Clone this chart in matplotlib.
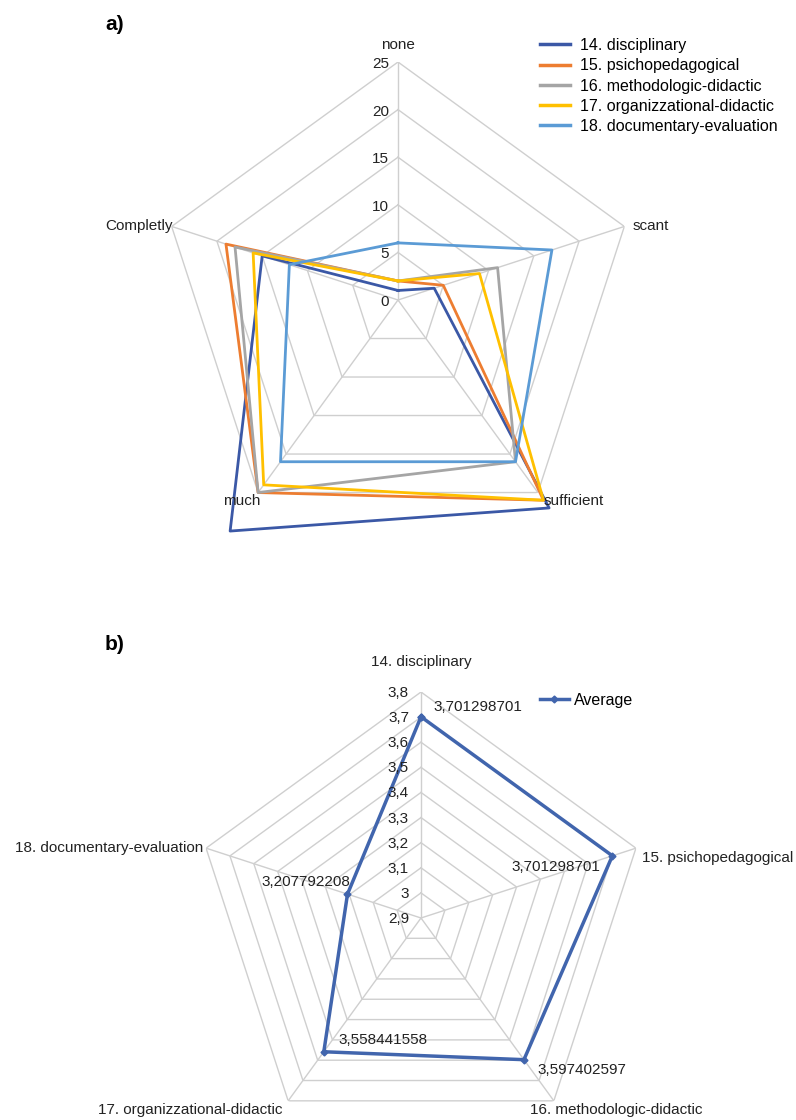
import numpy as np
import matplotlib
matplotlib.use("Agg")
import matplotlib.pyplot as plt
import matplotlib.lines as mlines

plt.rcParams['font.family'] = ['Liberation Sans', 'DejaVu Sans']

# chart a) - number of answers per level
levels = ["none", "scant", "sufficient", "much", "Completly"]
series_names = ["14. disciplinary", "15. psichopedagogical", "16. methodologic-didactic",
                "17. organizzational-didactic", "18. documentary-evaluation"]
disciplinary = [1, 4, 27, 30, 15]
psichopedagogical = [2, 5, 26, 25, 19]
methodologic = [2, 11, 21, 25, 18]
organizzational = [2, 9, 26, 24, 16]
documentary = [6, 17, 21, 21, 12]
ticks_a = [0, 5, 10, 15, 20, 25]

# chart b) - averages
areas = ["14. disciplinary", "15. psichopedagogical", "16. methodologic-didactic",
         "17. organizzational-didactic", "18. documentary-evaluation"]
average = [3.701298701, 3.701298701, 3.597402597, 3.558441558, 3.207792208]
ticks_b = [2.9, 3.0, 3.1, 3.2, 3.3, 3.4, 3.5, 3.6, 3.7, 3.8]
tick_labels_b = ["2,9", "3", "3,1", "3,2", "3,3", "3,4", "3,5", "3,6", "3,7", "3,8"]

colors = ["#3b58a6", "#ed7d31", "#a5a5a5", "#ffc000", "#5b9bd5"]
GRID = "#cfcfcf"
TXT = "#222222"
W, H = 796, 1120


def radar_axes(fig, cx, cy, R, rmin, rmax):
    ax = fig.add_axes([(cx - R) / W, (H - cy - R) / H, 2 * R / W, 2 * R / H], projection="polar")
    ax.set_theta_zero_location("N")
    ax.set_theta_direction(-1)
    ax.set_ylim(rmin, rmax)
    ax.grid(False)
    ax.set_xticks([])
    ax.set_yticks([])
    ax.spines["polar"].set_visible(False)
    ax.patch.set_alpha(0)
    return ax


def draw_grid(ax, angles, rings, rmin, rmax):
    closed = np.append(angles, angles[0])
    for r in rings:
        ax.plot(closed, [r] * len(closed), color=GRID, lw=1.0, zorder=1)
    for a in angles:
        ax.plot([a, a], [rmin, rmax], color=GRID, lw=1.0, zorder=1)


fig = plt.figure(figsize=(W / 100, H / 100), dpi=100)
angles = np.arange(5) * 2 * np.pi / 5
closed = np.append(angles, angles[0])

# ---------- a) ----------
ax1 = radar_axes(fig, 398, 300, 238, 0, 25)
draw_grid(ax1, angles, ticks_a[1:], 0, 25)
for vals, name, c in zip([disciplinary, psichopedagogical, methodologic, organizzational, documentary],
                         series_names, colors):
    ax1.plot(closed, vals + vals[:1], color=c, lw=2.0, clip_on=False, zorder=3, label=name)
for t in ticks_a:
    ax1.annotate(str(t), xy=(0, t), xytext=(-9, -2), textcoords="offset pixels",
                 ha="right", va="center", fontsize=11, color=TXT)
label_off_a = [(0, 17, "center"), (8, 0, "left"), (6, -8, "left"), (2, -8, "right"), (1, 0, "right")]
for a, lab, (dx, dy, ha) in zip(angles, levels, label_off_a):
    ax1.annotate(lab, xy=(a, 25), xytext=(dx, dy), textcoords="offset pixels",
                 ha=ha, va="center", fontsize=11, color=TXT)
fig.legend(handles=[mlines.Line2D([], [], color=c, lw=2.5) for c in colors], labels=series_names,
           loc="upper left", bbox_to_anchor=(540 / W, 1 - 38 / H), frameon=False, fontsize=11.5,
           handlelength=1.9, handletextpad=0.6, labelspacing=0.33, borderpad=0, borderaxespad=0)
fig.text(105 / W, 1 - 25 / H, "a)", fontsize=15, fontweight="bold", va="center")

# ---------- b) ----------
ax2 = radar_axes(fig, 421, 918, 226, 2.9, 3.8)
draw_grid(ax2, angles, ticks_b[1:], 2.9, 3.8)
ax2.plot(closed, average + average[:1], color="#4165ad", lw=2.5, marker="D", markersize=3.5,
         clip_on=False, zorder=3)
for t, tl in zip(ticks_b, tick_labels_b):
    ax2.annotate(tl, xy=(0, t), xytext=(-12, -1), textcoords="offset pixels",
                 ha="right", va="center", fontsize=11, color=TXT)
label_off_b = [(0, 30, "center"), (6, -10, "left"), (-24, -9, "left"), (-6, -9, "right"), (-3, 0, "right")]
for a, lab, (dx, dy, ha) in zip(angles, areas, label_off_b):
    ax2.annotate(lab, xy=(a, 3.8), xytext=(dx, dy), textcoords="offset pixels",
                 ha=ha, va="center", fontsize=11, color=TXT)
value_off = [(12, 10, "left"), (-12, -11, "right"), (14, -10, "left"), (15, 12, "left"), (3, 12, "right")]
for a, v, (dx, dy, ha) in zip(angles, average, value_off):
    ax2.annotate(f"{v:.9f}".replace(".", ","), xy=(a, v), xytext=(dx, dy), textcoords="offset pixels",
                 ha=ha, va="center", fontsize=11, color=TXT)
fig.legend(handles=[mlines.Line2D([], [], color="#4165ad", lw=2.5, marker="D", markersize=3.5)],
           labels=["Average"], loc="upper left", bbox_to_anchor=(540 / W, 1 - 693 / H), frameon=False,
           fontsize=11.5, handlelength=1.8, handletextpad=0.3, borderpad=0, borderaxespad=0)
fig.text(105 / W, 1 - 645 / H, "b)", fontsize=15, fontweight="bold", va="center")

fig.savefig("out.png", dpi=100)
